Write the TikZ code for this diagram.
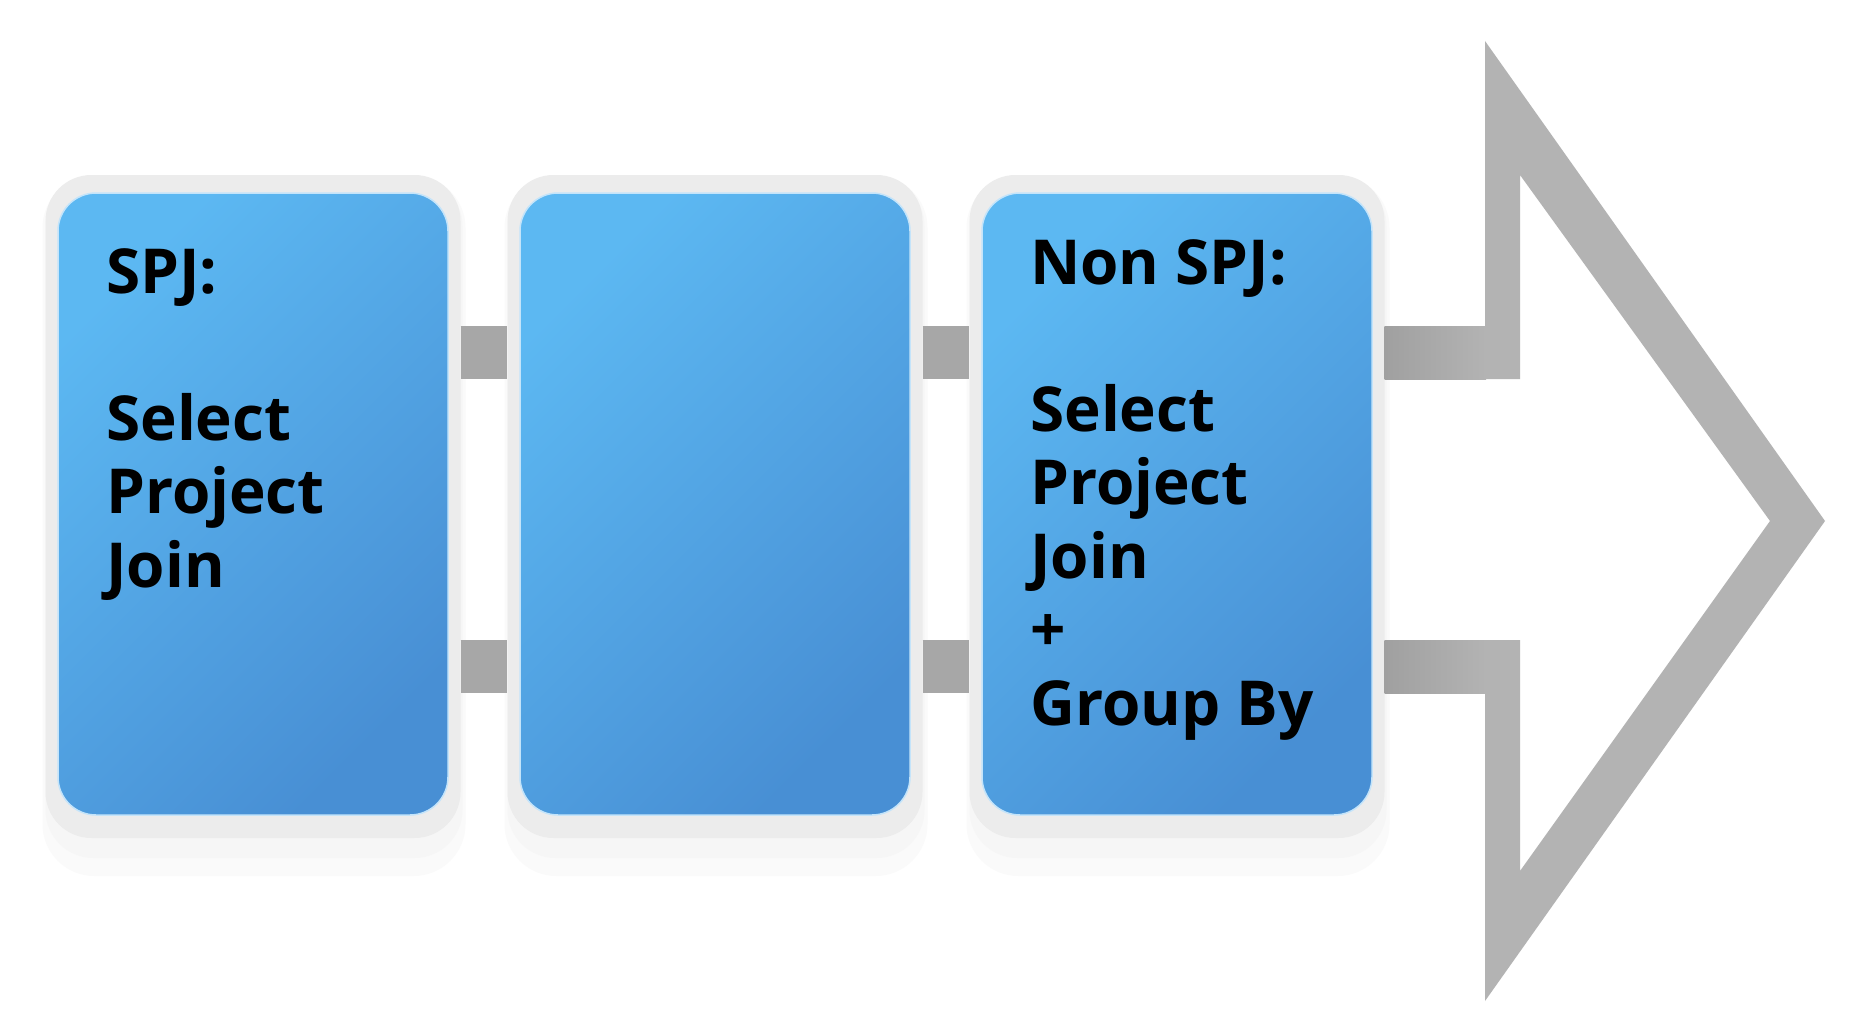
\documentclass[tikz,border=0pt]{standalone}
\usepackage{fontspec}
\setmainfont{Open Sans}
\usetikzlibrary{calc}
\definecolor{framegray}{RGB}{236,236,236}
\definecolor{shadowgray}{RGB}{246,246,246}
\definecolor{shadowgrayB}{RGB}{250,250,250}
\definecolor{blueA}{RGB}{92,184,242}
\definecolor{blueB}{RGB}{72,143,212}
\definecolor{blueEdge}{RGB}{196,228,250}
\definecolor{bargray}{RGB}{167,167,167}
\definecolor{arrowgray}{RGB}{179,179,179}
\definecolor{shaftdark}{RGB}{160,160,160}
\begin{document}
\begin{tikzpicture}[x=1pt,y=-1pt,
  shadowbox/.style={fill=shadowgray, rounded corners=48pt, minimum width=417pt, minimum height=680pt, inner sep=0pt},
  shadowboxB/.style={fill=shadowgrayB, rounded corners=52pt, minimum width=423pt, minimum height=700pt, inner sep=0pt},
  framebox/.style={fill=framegray, rounded corners=46pt, minimum width=415pt, minimum height=663pt, inner sep=0pt},
  card/.style={rounded corners=38pt, minimum width=390pt, minimum height=622pt, inner sep=0pt,
    top color=blueA, bottom color=blueB, shading angle=45, draw=blueEdge, line width=1.5pt},
  cardtext/.style={anchor=north west, inner sep=0pt, align=left, text=black,
    font=\bfseries\fontsize{62}{73.5}\selectfont},
  bar/.style={draw=bargray, line width=53pt},
  shaftshade/.style={left color=shaftdark, right color=arrowgray},
]
\fill[white] (0,0) rectangle (1858,1014);
\useasboundingbox (0,0) rectangle (1858,1014);

% soft shadows
\node[shadowboxB] (sb1) at (254,526) {};
\node[shadowboxB] (sb2) at (716,526) {};
\node[shadowboxB] (sb3) at (1178,526) {};
\node[shadowbox] (s1) at (254,518) {};
\node[shadowbox] (s2) at (716,518) {};
\node[shadowbox] (s3) at (1178,518) {};

% frames
\node[framebox] (f1) at (253,506.5) {};
\node[framebox] (f2) at (715,506.5) {};
\node[framebox] (f3) at (1177,506.5) {};

% cards
\node[card] (c1) at (253,504) {};
\node[card] (c2) at (715,504) {};
\node[card] (c3) at (1177,504) {};

% connector bars
\coordinate (ya) at (0,352.5);
\coordinate (yb) at (0,666.5);
\draw[bar] (f1.east |- ya) -- (f2.west |- ya);
\draw[bar] (f1.east |- yb) -- (f2.west |- yb);
\draw[bar] (f2.east |- ya) -- (f3.west |- ya);
\draw[bar] (f2.east |- yb) -- (f3.west |- yb);

% big outlined arrow
\coordinate (a1) at (0,326);
\coordinate (a2) at (0,379);
\coordinate (a3) at (0,640);
\coordinate (a4) at (0,693);
\fill[arrowgray] (f3.east |- a1) -- (1485,326) -- (1485,41) -- (1825,521) -- (1485,1001)
  -- (1485,693) -- (f3.east |- a4) -- (f3.east |- a3) -- (1520,640) -- (1520,871)
  -- (1770,521) -- (1520,175) -- (1520,379) -- (f3.east |- a2) -- cycle;
\shade[shaftshade] (f3.east |- a1) rectangle (1486,379);
\shade[shaftshade] (f3.east |- a3) rectangle (1486,693);

% texts
\node[cardtext] (t1) at (106,248) {SPJ:\\[73.5pt]Select\\Project\\Join};
\node[cardtext] (t3) at (1030,239) {Non SPJ:\\[73.5pt]Select\\Project\\Join\\+\\Group By};
\end{tikzpicture}
\end{document}
